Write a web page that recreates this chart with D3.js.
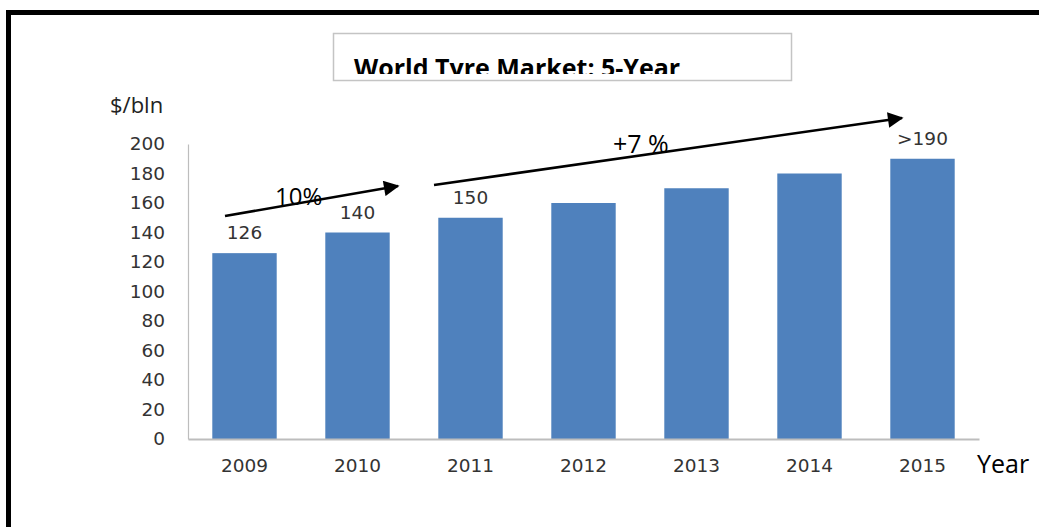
<!DOCTYPE html>
<html>
<head>
<meta charset="utf-8">
<script src="https://cdn.jsdelivr.net/npm/d3@7/dist/d3.min.js"></script>
<style>
  html, body { margin: 0; padding: 0; background: #fff; }
  svg { display: block; }
</style>
</head>
<body>
<script>
// Market size per year ($ bln)
const years = ["2009", "2010", "2011", "2012", "2013", "2014", "2015"];
const values = [126, 140, 150, 160, 170, 180, 190];
const valueLabels = ["126", "140", "150", "", "", "", ">190"];
const yTicks = [0, 20, 40, 60, 80, 100, 120, 140, 160, 180, 200];
// Growth annotations
const growthText = ["10%", "+7 %"];

const W = 1039, H = 527;
const svg = d3.select("body").append("svg").attr("width", W).attr("height", H);
const defs = svg.append("defs");

// outer frame
svg.append("rect")
  .attr("x", 8.5).attr("y", 12.5)
  .attr("width", W + 20).attr("height", H + 20)
  .attr("fill", "none").attr("stroke", "#000").attr("stroke-width", 5);

// title box (text is cut off along its lower edge)
defs.append("clipPath").attr("id", "titleClip")
  .append("rect").attr("x", 333).attr("y", 33).attr("width", 459).attr("height", 41);
svg.append("rect")
  .attr("x", 333.5).attr("y", 33.5).attr("width", 458).attr("height", 47)
  .attr("fill", "#fff").attr("stroke", "#c4c4c4").attr("stroke-width", 1.5);
svg.append("text")
  .attr("clip-path", "url(#titleClip)")
  .attr("x", 354).attr("y", 76.5)
  .attr("font-family", "'Open Sans', 'Noto Sans', sans-serif")
  .attr("font-weight", "bold").attr("font-size", 25)
  .attr("fill", "#000")
  .text("World Tyre Market: 5-Year");

const plot = { left: 188, right: 979, top: 144, bottom: 439 };

const x = d3.scaleBand().domain(years)
  .range([plot.left, plot.right]).paddingInner(0.43).paddingOuter(0.215);
const y = d3.scaleLinear().domain([0, 200]).range([plot.bottom, plot.top]);

const tickFont = "'DejaVu Sans', sans-serif";
const tickSize = 18.5;

// bars
svg.append("g").selectAll("rect").data(years).join("rect")
  .attr("x", d => x(d)).attr("width", x.bandwidth())
  .attr("y", (d, i) => y(values[i]))
  .attr("height", (d, i) => y(0) - y(values[i]))
  .attr("fill", "#4F81BD");

// y axis
const yAxis = svg.append("g").attr("transform", `translate(${plot.left},0)`)
  .call(d3.axisLeft(y).tickValues(yTicks).tickSize(0).tickPadding(23));
yAxis.select(".domain").attr("stroke", "#bdbdbd").attr("stroke-width", 1.2);
yAxis.selectAll("text")
  .attr("font-family", tickFont).attr("font-size", tickSize)
  .attr("fill", "#333");

// x axis
const xAxis = svg.append("g").attr("transform", `translate(0,${plot.bottom})`)
  .call(d3.axisBottom(x).tickSize(0).tickPadding(20));
xAxis.select(".domain").attr("stroke", "#bdbdbd").attr("stroke-width", 2);
xAxis.selectAll("text")
  .attr("font-family", tickFont).attr("font-size", tickSize)
  .attr("fill", "#333");

// value labels
svg.append("g").selectAll("text").data(years).join("text")
  .attr("x", d => x(d) + x.bandwidth() / 2)
  .attr("y", (d, i) => y(values[i]) - 14)
  .attr("text-anchor", "middle")
  .attr("font-family", tickFont).attr("font-size", tickSize)
  .attr("fill", "#333")
  .text((d, i) => valueLabels[i]);

// axis titles
svg.append("text").attr("x", 110).attr("y", 113)
  .attr("font-family", "'Open Sans', sans-serif").attr("font-size", 22)
  .attr("fill", "#222").text("$/bln");
svg.append("text").attr("x", 977).attr("y", 473)
  .attr("font-family", "'Open Sans', sans-serif").attr("font-size", 25)
  .attr("fill", "#000").text("Year");

// growth arrows
defs.append("marker")
  .attr("id", "arrowHead").attr("viewBox", "0 0 10 10")
  .attr("refX", 9).attr("refY", 5)
  .attr("markerWidth", 7).attr("markerHeight", 6)
  .attr("markerUnits", "strokeWidth").attr("orient", "auto")
  .append("path").attr("d", "M0,0 L10,5 L0,10 Z").attr("fill", "#000");

const arrowPts = [
  [[225, 216], [398, 186]],
  [[434, 185], [902, 118]]
];
arrowPts.forEach(([a, b]) => {
  svg.append("line")
    .attr("x1", a[0]).attr("y1", a[1]).attr("x2", b[0]).attr("y2", b[1])
    .attr("stroke", "#000").attr("stroke-width", 2.6)
    .attr("marker-end", "url(#arrowHead)");
});
svg.append("text").attr("x", 275).attr("y", 205)
  .attr("font-family", "'Open Sans', sans-serif").attr("font-size", 24)
  .attr("fill", "#000").text(growthText[0]);
svg.append("text").attr("x", 613).attr("y", 153)
  .attr("font-family", "'Open Sans', sans-serif").attr("font-size", 25)
  .attr("fill", "#000").text(growthText[1]);
</script>
</body>
</html>
